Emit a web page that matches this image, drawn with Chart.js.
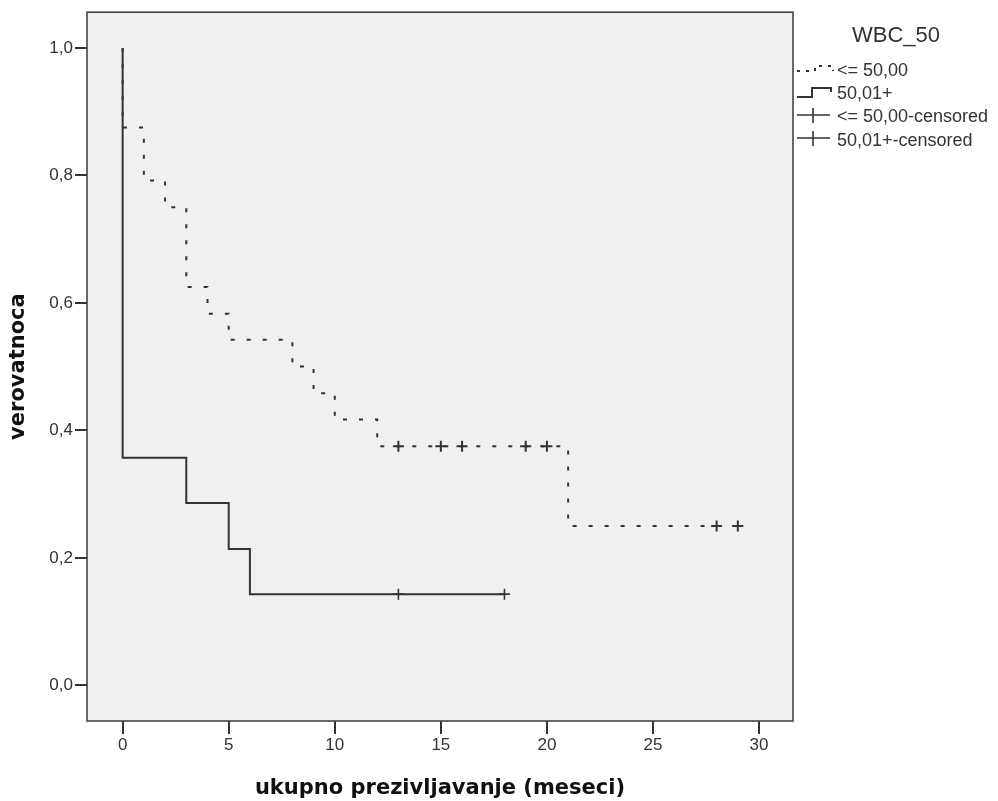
<!DOCTYPE html>
<html><head><meta charset="utf-8">
<script src="https://cdn.jsdelivr.net/npm/chart.js@4"></script>
<style>html,body{margin:0;padding:0;background:#fff;} #wrap{width:998px;height:801px;}</style>
</head><body><div id="wrap"><canvas id="c" width="998" height="801"></canvas></div>
<script>
// ---- data ----
const groupLowTimes = [0, 0, 1, 2, 3, 4, 5, 8, 9, 10, 12, 21, 29];
const groupLowSurv  = [1.0, 0.875, 0.792, 0.75, 0.625, 0.583, 0.542, 0.5, 0.458, 0.417, 0.375, 0.25, 0.25];
const groupHighTimes = [0, 0, 3, 5, 6, 18];
const groupHighSurv  = [1.0, 0.357, 0.286, 0.214, 0.143, 0.143];
const censLowTimes = [13, 15, 16, 19, 20, 28, 29];
const censLowSurv  = [0.375, 0.375, 0.375, 0.375, 0.375, 0.25, 0.25];
const censHighTimes = [13, 18];
const censHighSurv  = [0.143, 0.143];
const xTickValues = [0, 5, 10, 15, 20, 25, 30];
const xTickLabels = ['0', '5', '10', '15', '20', '25', '30'];
const yTickValues = [0, 0.2, 0.4, 0.6, 0.8, 1.0];
const yTickLabels = ['0,0', '0,2', '0,4', '0,6', '0,8', '1,0'];
const seriesNames = ['<= 50,00', '50,01+', '<= 50,00-censored', '50,01+-censored'];
const legendTitle = 'WBC_50';
const xTitle = 'ukupno prezivljavanje (meseci)';
const yTitle = 'verovatnoca';

// ---- chart ----
const ink = '#333333';
const zip = (xs, ys) => xs.map((x, i) => ({x: x, y: ys[i]}));

const framePlugin = {
  id: 'frame',
  beforeDraw(chart) {
    const a = chart.chartArea, c = chart.ctx;
    c.save();
    c.fillStyle = '#f0f0f0';
    c.fillRect(a.left, a.top, a.right - a.left, a.bottom - a.top);
    c.restore();
  },
  afterDraw(chart) {
    const a = chart.chartArea, c = chart.ctx;
    c.save();
    c.strokeStyle = '#444444';
    c.lineWidth = 1.6;
    c.strokeRect(a.left, a.top, a.right - a.left, a.bottom - a.top);
    c.restore();
  }
};

const legendPlugin = {
  id: 'spssLegend',
  afterDraw(chart) {
    const c = chart.ctx;
    c.save();
    c.fillStyle = '#333333';
    c.textBaseline = 'alphabetic';
    c.textAlign = 'left';
    c.font = '22px "Liberation Sans", Arial, sans-serif';
    c.fillText(legendTitle, 852, 42);
    c.font = '18px "Liberation Sans", Arial, sans-serif';
    const baselines = [76, 99, 122, 146];
    seriesNames.forEach((n, i) => c.fillText(n, 837, baselines[i]));
    c.strokeStyle = ink;
    c.lineWidth = 2;
    // dashed step symbol
    c.setLineDash([3, 6]);
    c.beginPath();
    c.moveTo(797, 71); c.lineTo(815, 71); c.lineTo(815, 66); c.lineTo(833, 66); c.lineTo(833, 71);
    c.stroke();
    c.setLineDash([]);
    // solid step symbol
    c.beginPath();
    c.moveTo(797, 97); c.lineTo(812, 97); c.lineTo(812, 88); c.lineTo(831, 88); c.lineTo(831, 92);
    c.stroke();
    // censored symbols
    c.lineWidth = 1.6;
    [115, 138].forEach(y => {
      c.beginPath();
      c.moveTo(797, y); c.lineTo(830, y);
      c.moveTo(813, y - 7); c.lineTo(813, y + 8);
      c.stroke();
    });
    c.restore();
  }
};

new Chart(document.getElementById('c').getContext('2d'), {
  type: 'scatter',
  data: {
    datasets: [
      {label: seriesNames[0], data: zip(groupLowTimes, groupLowSurv), showLine: true, stepped: 'before',
       borderColor: ink, borderWidth: 2, borderDash: [4, 12], pointRadius: 0, fill: false},
      {label: seriesNames[1], data: zip(groupHighTimes, groupHighSurv), showLine: true, stepped: 'before',
       borderColor: ink, borderWidth: 2, pointRadius: 0, fill: false},
      {label: seriesNames[2], data: zip(censLowTimes, censLowSurv), showLine: false, pointStyle: 'cross',
       pointRadius: 5.5, pointBorderColor: ink, pointBorderWidth: 2},
      {label: seriesNames[3], data: zip(censHighTimes, censHighSurv), showLine: false, pointStyle: 'cross',
       pointRadius: 5.5, pointBorderColor: ink, pointBorderWidth: 1.6}
    ]
  },
  options: {
    responsive: false,
    animation: false,
    devicePixelRatio: 1,
    layout: {padding: {left: 0, right: 205, top: 11, bottom: 0}},
    plugins: {legend: {display: false}, tooltip: {enabled: false}},
    scales: {
      x: {
        type: 'linear', min: -1.68, max: 31.6,
        afterBuildTicks: s => { s.ticks = xTickValues.map(v => ({value: v})); },
        afterFit: s => { s.height = 80; },
        ticks: {callback: (v, i) => xTickLabels[i], font: {family: '"Liberation Sans", Arial', size: 17},
                color: '#333', padding: 1, maxRotation: 0, autoSkip: false},
        grid: {drawOnChartArea: false, drawTicks: true, tickLength: 13, color: ink, lineWidth: 2},
        border: {display: false},
        title: {display: true, text: xTitle, color: '#111',
                font: {family: '"DejaVu Sans"', size: 21, weight: 'bold'}, padding: {top: 0, bottom: 0}}
      },
      y: {
        type: 'linear', min: -0.056, max: 1.056,
        afterBuildTicks: s => { s.ticks = yTickValues.map(v => ({value: v})); },
        afterFit: s => { s.width = 87; },
        ticks: {callback: (v, i) => yTickLabels[i], font: {family: '"Liberation Sans", Arial', size: 17},
                color: '#333', padding: 2, autoSkip: false},
        grid: {drawOnChartArea: false, drawTicks: true, tickLength: 12, color: ink, lineWidth: 2},
        border: {display: false},
        title: {display: true, text: yTitle, color: '#111',
                font: {family: '"DejaVu Sans"', size: 21, weight: 'bold'}, padding: {top: 6, bottom: 0}}
      }
    }
  },
  plugins: [framePlugin, legendPlugin]
});
</script>
</body></html>
